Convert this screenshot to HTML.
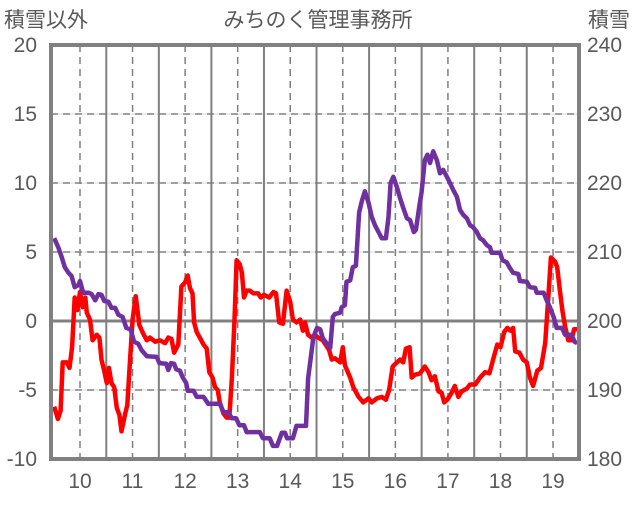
<!DOCTYPE html>
<html><head><meta charset="utf-8"><style>
body{margin:0;background:#fff;}
svg text{font-family:"Liberation Sans","Noto Sans CJK JP",sans-serif;fill:#595959;}
</style></head><body>
<svg id="chart" width="636" height="501" xmlns="http://www.w3.org/2000/svg">
<text x="318" y="27" font-size="21" text-anchor="middle">みちのく管理事務所</text>
<text x="4" y="27" font-size="21">積雪以外</text>
<text x="588" y="27" font-size="21">積雪</text>
<g id="grid"></g>
<g id="series"></g>
<rect x="51" y="45" width="528" height="414" fill="none" stroke="#808080" stroke-width="4"/>
<g id="labels"></g>
</svg>
<script>
const leftTicks=[20,15,10,5,0,-5,-10];
const rightTicks=[240,230,220,210,200,190,180];
const years=[10,11,12,13,14,15,16,17,18,19];
const redT=[9.51,9.58,9.63,9.67,9.75,9.80,9.85,9.90,9.95,10.00,10.05,10.10,10.13,10.19,10.24,10.32,10.37,10.41,10.46,10.51,10.55,10.60,10.65,10.70,10.75,10.79,10.86,10.90,10.95,11.00,11.06,11.13,11.20,11.27,11.33,11.43,11.52,11.62,11.68,11.74,11.79,11.87,11.93,12.00,12.05,12.09,12.14,12.17,12.22,12.28,12.35,12.41,12.46,12.52,12.57,12.62,12.66,12.73,12.79,12.84,12.89,12.94,12.98,13.04,13.08,13.12,13.17,13.23,13.30,13.39,13.44,13.50,13.60,13.68,13.73,13.79,13.86,13.93,14.00,14.05,14.12,14.19,14.24,14.28,14.34,14.41,14.47,14.53,14.62,14.74,14.79,14.85,14.95,15.00,15.04,15.14,15.20,15.30,15.39,15.49,15.55,15.65,15.74,15.82,15.88,15.95,16.03,16.09,16.15,16.20,16.27,16.31,16.37,16.47,16.56,16.63,16.69,16.75,16.82,16.88,16.93,16.99,17.07,17.13,17.20,17.26,17.36,17.42,17.52,17.61,17.71,17.79,17.86,17.94,18.00,18.07,18.13,18.19,18.24,18.28,18.36,18.43,18.50,18.56,18.62,18.70,18.77,18.85,18.91,18.96,19.04,19.08,19.13,19.18,19.23,19.29,19.35,19.40,19.46];
const redV=[-6.2,-7.1,-6.5,-3.0,-3.0,-3.4,-1.9,1.7,0.8,2.1,1.0,1.7,0.6,0.1,-1.4,-1.0,-1.2,-2.8,-3.6,-4.5,-3.4,-4.5,-4.8,-6.3,-6.8,-8.0,-6.7,-6.1,-3.0,0.1,1.8,-0.3,-0.9,-1.4,-1.2,-1.5,-1.4,-1.6,-1.2,-1.3,-2.3,-1.7,2.5,2.8,3.3,2.4,2.0,-0.1,-0.8,-1.2,-1.7,-2.0,-3.7,-4.1,-4.8,-5.0,-5.9,-6.7,-7.0,-7.0,-4.1,0.1,4.4,4.1,3.5,1.7,2.2,2.2,2.0,2.0,1.7,1.9,1.7,2.1,2.0,-0.1,-0.2,2.2,1.4,0.1,-0.1,0.1,-0.7,-0.1,-1.0,-1.2,-1.0,-1.2,-1.4,-2.1,-2.8,-2.7,-3.0,-1.9,-3.2,-4.1,-4.8,-5.5,-5.9,-5.6,-5.9,-5.6,-5.5,-5.7,-5.0,-3.3,-3.0,-2.8,-3.0,-2.0,-1.9,-4.1,-3.9,-3.8,-3.3,-3.7,-4.3,-4.0,-5.1,-5.2,-5.9,-5.7,-5.2,-4.7,-5.5,-5.1,-4.9,-4.6,-4.6,-4.1,-3.7,-3.8,-2.8,-1.7,-1.9,-0.8,-0.5,-0.7,-0.5,-2.2,-2.3,-2.8,-3.0,-4.1,-4.7,-3.6,-3.4,-1.6,1.7,4.6,4.3,3.9,2.2,0.7,-0.4,-1.4,-1.4,-0.6,-0.6];
const snowT=[9.51,9.59,9.65,9.71,9.78,9.84,9.90,9.97,10.00,10.06,10.16,10.22,10.29,10.35,10.41,10.46,10.54,10.60,10.67,10.73,10.81,10.88,10.96,11.03,11.11,11.17,11.27,11.46,11.51,11.64,11.68,11.73,11.79,11.83,11.90,11.95,12.02,12.05,12.16,12.22,12.35,12.44,12.66,12.73,12.82,12.89,12.97,13.03,13.12,13.17,13.42,13.48,13.61,13.67,13.75,13.84,13.90,13.94,14.05,14.12,14.30,14.34,14.39,14.44,14.51,14.57,14.62,14.69,14.76,14.81,14.85,14.95,14.98,15.04,15.07,15.14,15.19,15.25,15.31,15.36,15.42,15.49,15.55,15.61,15.68,15.74,15.82,15.87,15.91,15.96,16.03,16.09,16.15,16.22,16.28,16.35,16.39,16.46,16.50,16.56,16.61,16.66,16.72,16.79,16.85,16.91,16.98,17.04,17.10,17.17,17.23,17.29,17.36,17.42,17.48,17.55,17.61,17.67,17.74,17.80,17.83,17.99,18.04,18.12,18.17,18.24,18.34,18.37,18.50,18.56,18.66,18.69,18.82,18.88,18.94,19.01,19.07,19.17,19.23,19.35,19.41,19.46];
const snowV=[212.0,210.6,209.3,207.8,207.0,206.5,204.9,205.2,205.8,204.1,204.1,203.9,203.0,203.9,203.8,202.9,202.8,201.9,201.9,200.9,200.6,199.0,198.8,197.0,196.7,195.8,194.9,194.8,193.9,193.8,192.9,193.9,193.8,193.0,192.8,191.9,191.0,189.9,189.9,189.0,189.0,188.0,188.0,186.8,186.8,185.9,185.9,184.9,184.9,183.9,183.9,183.0,183.0,181.9,181.9,183.8,183.8,183.0,183.0,184.8,184.8,191.7,194.6,197.7,199.0,198.8,197.5,196.8,196.1,200.6,201.0,201.2,202.0,202.3,205.7,205.9,207.8,208.0,215.7,217.3,218.8,217.1,215.1,213.9,212.9,212.0,212.0,215.1,220.0,220.9,219.4,217.8,216.4,214.9,214.6,212.9,213.2,216.8,218.7,223.3,224.1,222.9,224.6,223.3,221.4,221.9,220.9,220.0,219.0,218.0,216.1,215.4,214.9,213.9,213.6,212.9,212.0,211.7,211.0,210.7,209.9,209.9,208.8,208.5,207.8,207.0,206.8,205.8,205.7,204.9,204.8,204.1,204.1,203.0,202.0,200.6,199.0,199.0,198.0,198.0,197.0,196.8];

const NS="http://www.w3.org/2000/svg";
const X0=51,X1=579,Y0=45,Y1=459;
function xs(t){return 80+(t-10)*52.56;}
function yL(v){return Y1-(v+10)/30*(Y1-Y0);}
function yR(v){return Y1-(v-180)/60*(Y1-Y0);}
function mk(tag,attrs,parent){const e=document.createElementNS(NS,tag);for(const k in attrs)e.setAttribute(k,attrs[k]);parent.appendChild(e);return e;}
const grid=document.getElementById('grid'),ser=document.getElementById('series'),lab=document.getElementById('labels');
leftTicks.forEach(v=>{
  if(v===20||v===-10)return;
  const y=yL(v);
  if(v===0){const l=mk('line',{x1:X0,x2:X1,y1:y,y2:y,stroke:'#808080','stroke-width':3},grid);
    
    }
  else{mk('line',{x1:X0,x2:X1,y1:y,y2:y,stroke:'#d9d9d9','stroke-width':1},grid);
    const l=mk('line',{x1:X0,x2:X1,y1:y,y2:y,stroke:'#808080','stroke-width':1.5,'stroke-dasharray':'7,5'},grid);
    
    }
});
years.forEach(yr=>{
  const x=xs(yr);
  const d=mk('line',{x1:x,x2:x,y1:Y0,y2:Y1,stroke:'#808080','stroke-width':1.5,'stroke-dasharray':'7,5'},grid);
  
  
  if(yr<19){const s=mk('line',{x1:x+26.28,x2:x+26.28,y1:Y0,y2:Y1,stroke:'#808080','stroke-width':2},grid);
    
    }
  const t=mk('text',{x:x,y:488,'font-size':21,'text-anchor':'middle'},lab);t.textContent=yr;
  
  
});
leftTicks.forEach(v=>{const t=mk('text',{x:37,y:yL(v)+7,'font-size':21,'text-anchor':'end'},lab);t.textContent=v;
  
  });
rightTicks.forEach(v=>{const t=mk('text',{x:587,y:yR(v)+7,'font-size':21},lab);t.textContent=v;
  
  });
const red=mk('polyline',{points:redT.map((t,i)=>xs(t).toFixed(1)+','+yL(redV[i]).toFixed(1)).join(' '),fill:'none',stroke:'#ff0000','stroke-width':4.5,'stroke-linejoin':'round'},ser);


const pur=mk('polyline',{points:snowT.map((t,i)=>xs(t).toFixed(1)+','+yR(snowV[i]).toFixed(1)).join(' '),fill:'none',stroke:'#7030a0','stroke-width':4.5,'stroke-linejoin':'round'},ser);


</script>
</body></html>
